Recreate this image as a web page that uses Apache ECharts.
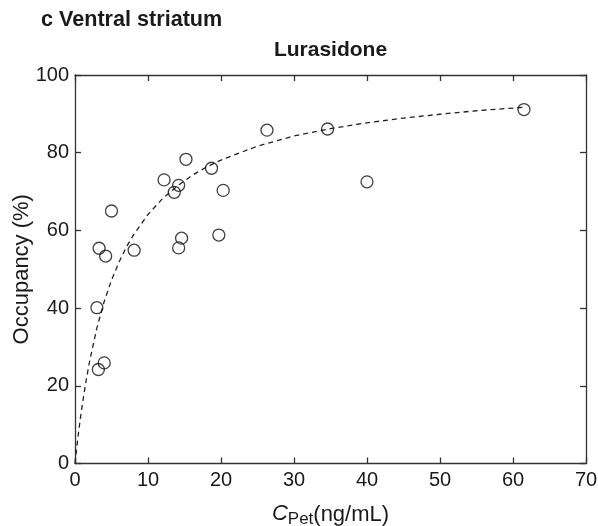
<!DOCTYPE html>
<html>
<head>
<meta charset="utf-8">
<script src="https://cdn.jsdelivr.net/npm/echarts@6/dist/echarts.min.js"></script>
<style>
html,body{margin:0;padding:0;background:#fff;}
#c{width:598px;height:526px;}
</style>
</head>
<body>
<div id="c"></div>
<script>
// Observed data (Cpet in ng/mL, occupancy in %)
const concX = [61.5, 34.6, 26.3, 40.0, 15.2, 18.7, 12.2, 14.2, 13.6, 20.3, 5.0, 14.6, 19.7, 14.2, 3.3, 4.2, 8.1, 3.0, 4.0, 3.2];
const occY  = [91.1, 86.1, 85.8, 72.5, 78.3, 76.0, 73.0, 71.6, 69.8, 70.3, 65.0, 58.0, 58.8, 55.5, 55.4, 53.4, 54.9, 40.1, 25.9, 24.2];
// Fitted curve
const fitX = [0, 0.25, 0.5, 0.75, 1, 1.5, 2, 3, 4, 5, 6, 7, 8, 10, 12, 14, 16, 18, 20, 25, 30, 35, 40, 45, 50, 55, 61.5];
const fitY = [0, 4.3, 8.2, 11.8, 15.2, 21.1, 26.3, 34.9, 41.7, 47.2, 51.7, 55.6, 58.8, 64.1, 68.2, 71.4, 74.1, 76.3, 78.1, 81.7, 84.3, 86.2, 87.7, 88.9, 89.9, 90.8, 91.7];
const xTicks = [0, 10, 20, 30, 40, 50, 60, 70];
const yTicks = [0, 20, 40, 60, 80, 100];

const FONT = 'Liberation Sans, Arial, Helvetica, sans-serif';
const TXT = '#1a1a1a';
const AX = '#333';

const chart = echarts.init(document.getElementById('c'), null, {renderer: 'canvas'});

const tickCommon = {show: true, inside: true, length: 6, lineStyle: {color: AX, width: 1.3}};
const lineCommon = {show: true, onZero: false, lineStyle: {color: AX, width: 1.3}};

chart.setOption({
  animation: false,
  backgroundColor: '#fff',
  grid: {left: 75, right: 12, top: 75, bottom: 62.5, containLabel: false, outerBoundsMode: 'none'},
  graphic: [
    {type: 'text', left: 41, top: 9, style: {text: 'c Ventral striatum', font: 'bold 21.6px ' + FONT, fill: TXT}},
    {type: 'text', x: 330.5, y: 50, style: {text: 'Lurasidone', font: 'bold 21px ' + FONT, fill: TXT, textAlign: 'center', textVerticalAlign: 'middle'}}
  ],
  xAxis: [
    {
      type: 'value', position: 'bottom', min: xTicks[0], max: xTicks[xTicks.length - 1], interval: 10,
      axisLine: lineCommon, axisTick: tickCommon, splitLine: {show: false},
      axisLabel: {color: TXT, fontSize: 20, fontFamily: FONT, margin: 7, formatter: v => xTicks.includes(v) ? String(v) : ''},
      name: '{i|C}{s|Pet}{n|(ng/mL)}', nameLocation: 'middle', nameGap: 39, nameMoveOverlap: false,
      nameTextStyle: {
        rich: {
          i: {fontStyle: 'italic', fontSize: 22, fontFamily: FONT, color: TXT, verticalAlign: 'top', lineHeight: 24},
          s: {fontSize: 17, fontFamily: FONT, color: TXT, padding: [9, 0, 0, 0], lineHeight: 24},
          n: {fontSize: 22, fontFamily: FONT, color: TXT, lineHeight: 24}
        }
      }
    },
    {
      type: 'value', position: 'top', min: xTicks[0], max: xTicks[xTicks.length - 1], interval: 10,
      axisLine: lineCommon, axisTick: tickCommon, axisLabel: {show: false}, splitLine: {show: false}
    }
  ],
  yAxis: [
    {
      type: 'value', position: 'left', min: yTicks[0], max: yTicks[yTicks.length - 1], interval: 20,
      axisLine: lineCommon, axisTick: tickCommon, splitLine: {show: false},
      axisLabel: {color: TXT, fontSize: 20, fontFamily: FONT, margin: 6},
      name: 'Occupancy (%)', nameLocation: 'middle', nameGap: 42, nameMoveOverlap: false,
      nameTextStyle: {color: TXT, fontSize: 22, fontFamily: FONT}
    },
    {
      type: 'value', position: 'right', min: yTicks[0], max: yTicks[yTicks.length - 1], interval: 20,
      axisLine: lineCommon, axisTick: tickCommon, axisLabel: {show: false}, splitLine: {show: false}
    }
  ],
  series: [
    {
      type: 'line', xAxisIndex: 0, yAxisIndex: 0,
      data: fitX.map((x, i) => [x, fitY[i]]),
      showSymbol: false, smooth: false,
      lineStyle: {color: '#222', width: 1.3, type: [5, 4]},
      z: 2
    },
    {
      type: 'scatter', xAxisIndex: 0, yAxisIndex: 0,
      data: concX.map((x, i) => [x, occY[i]]),
      symbol: 'circle', symbolSize: 12,
      itemStyle: {color: 'rgba(255,255,255,0)', borderColor: '#111', borderWidth: 1.3},
      z: 3
    }
  ]
});
</script>
</body>
</html>
